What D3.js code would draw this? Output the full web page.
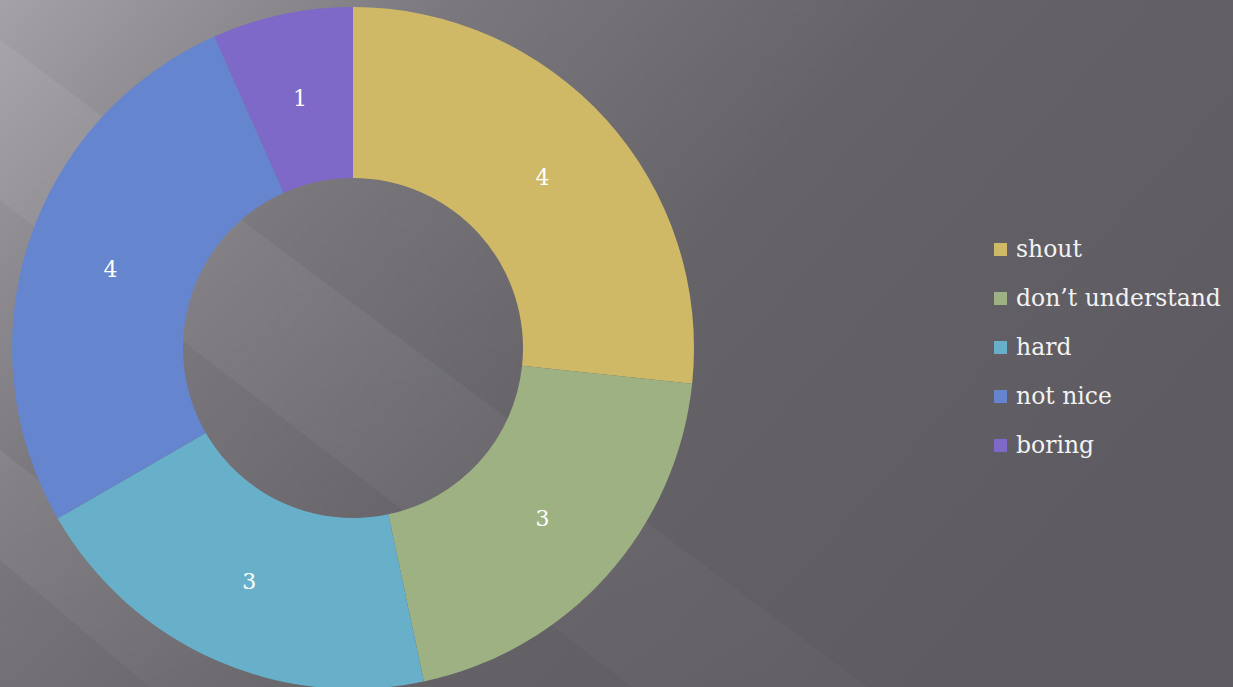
<!DOCTYPE html>
<html>
<head>
<meta charset="utf-8">
<script src="https://cdn.jsdelivr.net/npm/d3@7"></script>
<style>
  html, body { margin: 0; padding: 0; background: #5f5d63; }
  #chart { width: 1233px; height: 687px; }
</style>
</head>
<body>
<div id="chart"></div>
<script>
const categories = ["shout", "don\u2019t understand", "hard", "not nice", "boring"];
const values = [4, 3, 3, 4, 1];
const colors = ["#cfb966", "#9db183", "#68b0c9", "#6685cf", "#7e69c8"];

const drawDonut = id => {
    const width = 1233;
    const height = 687;

    const svg = d3.select(id)
        .append("svg")
        .attr("width", width)
        .attr("height", height);

    // background: grey gradient with faint diagonal light streaks
    const defs = svg.append("defs");
    const bg = defs.append("linearGradient")
        .attr("id", "bg")
        .attr("x1", "0").attr("y1", "0")
        .attr("x2", "1").attr("y2", "0.5");
    bg.append("stop").attr("offset", "0%").attr("stop-color", "#a4a1a7");
    bg.append("stop").attr("offset", "30%").attr("stop-color", "#7a777d");
    bg.append("stop").attr("offset", "60%").attr("stop-color", "#656368");
    bg.append("stop").attr("offset", "100%").attr("stop-color", "#5e5c62");

    const streak = defs.append("linearGradient")
        .attr("id", "streak")
        .attr("x1", "0").attr("y1", "0")
        .attr("x2", "0.3").attr("y2", "1");
    streak.append("stop").attr("offset", "0%").attr("stop-color", "#ffffff").attr("stop-opacity", 0.07);
    streak.append("stop").attr("offset", "100%").attr("stop-color", "#ffffff").attr("stop-opacity", 0.0);

    svg.append("rect")
        .attr("width", width)
        .attr("height", height)
        .attr("fill", "url(#bg)");

    const streaks = [
        [[0, 40], [0, 200], [1233, 1150], [1233, 960]],
        [[0, 450], [0, 560], [400, 900], [400, 760]]
    ];
    svg.selectAll("path.streak")
        .data(streaks)
        .join("path")
        .attr("class", "streak")
        .attr("d", d => d3.line()(d) + "Z")
        .attr("fill", "url(#streak)");

    const cx = 353, cy = 348;
    const outerR = 341, innerR = 170;

    const pie = d3.pie().sort(null).value(d => d.value);
    const arc = d3.arc().innerRadius(innerR).outerRadius(outerR);
    const labelArc = d3.arc().innerRadius(255).outerRadius(255);

    const data = categories.map((c, i) => ({ name: c, value: values[i], color: colors[i] }));
    const arcs = pie(data);

    const g = svg.append("g").attr("transform", `translate(${cx},${cy})`);

    g.selectAll("path.slice")
        .data(arcs)
        .join("path")
        .attr("class", "slice")
        .attr("d", arc)
        .attr("fill", d => d.data.color);

    g.selectAll("text.value")
        .data(arcs)
        .join("text")
        .attr("class", "value")
        .attr("x", d => labelArc.centroid(d)[0])
        .attr("y", d => labelArc.centroid(d)[1])
        .attr("dy", "0.35em")
        .attr("text-anchor", "middle")
        .attr("fill", "#ffffff")
        .style("font-family", "'DejaVu Serif', 'Liberation Serif', serif")
        .style("font-size", "22px")
        .text(d => d.data.value);

    const legend = svg.append("g").attr("transform", "translate(994,249)");
    const rows = legend.selectAll("g")
        .data(data)
        .join("g")
        .attr("transform", (d, i) => `translate(0,${i * 49})`);

    rows.append("rect")
        .attr("x", 0)
        .attr("y", -6)
        .attr("width", 13)
        .attr("height", 13)
        .attr("fill", d => d.color);

    rows.append("text")
        .attr("x", 22)
        .attr("y", 0)
        .attr("dy", "0.32em")
        .attr("fill", "#f2f2f2")
        .style("font-family", "'DejaVu Serif', 'Liberation Serif', serif")
        .style("font-size", "23.5px")
        .text(d => d.name);
};

drawDonut("#chart");
</script>
</body>
</html>
